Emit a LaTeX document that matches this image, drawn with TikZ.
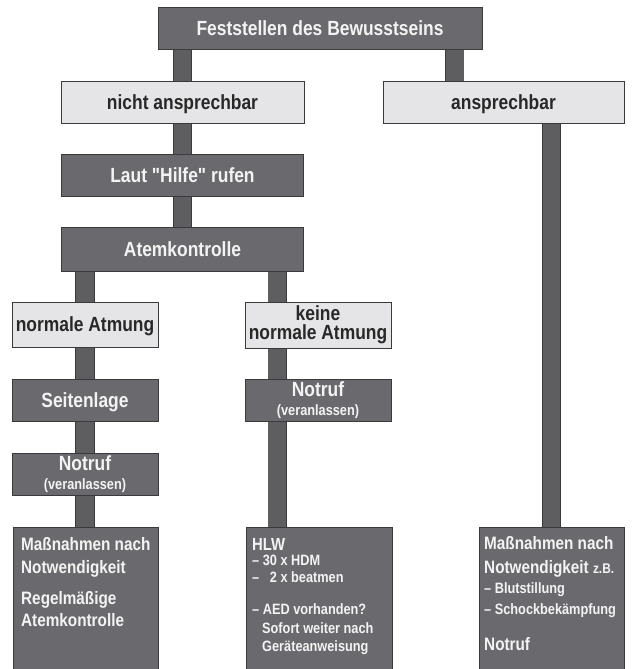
\documentclass[tikz,border=0pt]{standalone}
\usepackage{fontspec}
\setmainfont{Liberation Sans}[FakeStretch=0.85, Ligatures=TeXOff]
\usetikzlibrary{backgrounds,calc}
\definecolor{boxdark}{RGB}{106,106,110}
\definecolor{boxlight}{RGB}{229,229,231}
\definecolor{barfill}{RGB}{94,94,97}
\definecolor{edge}{RGB}{58,58,60}
\definecolor{txtlight}{RGB}{243,243,243}
\definecolor{txtdark}{RGB}{40,40,40}
\tikzset{
  boxbase/.style={draw=edge, line width=0.8pt, inner sep=0pt, align=center,
    font=\bfseries\fontsize{20.5}{19}\selectfont},
  oneline/.style={text height=14.7pt, text depth=0pt},
  darkbox/.style={boxbase, fill=boxdark, text=txtlight},
  lightbox/.style={boxbase, fill=boxlight, text=txtdark},
  bar/.style={draw=edge, line width=0.8pt, double=barfill, double distance=17.5pt},
  btext/.style={anchor=base west, inner sep=0pt, text=txtlight,
    font=\bfseries\fontsize{18}{20}\selectfont},
  stext/.style={btext, font=\bfseries\fontsize{15}{17}\selectfont},
}
\begin{document}
\begin{tikzpicture}[x=1pt,y=-1pt]
\useasboundingbox (0,0) rectangle (632,669);
\clip (0,0) rectangle (632,669);

\node[darkbox, oneline, minimum width=324pt, minimum height=42pt] (top) at (320,28) {Feststellen des Bewusstseins};
\node[lightbox, oneline, minimum width=243pt, minimum height=42pt] (na) at (182.5,102) {nicht ansprechbar};
\node[lightbox, oneline, minimum width=241pt, minimum height=42pt] (ans) at (503.5,102) {ansprechbar};
\node[darkbox, oneline, minimum width=242pt, minimum height=42pt] (laut) at (182.5,175) {Laut "Hilfe" rufen};
\node[darkbox, oneline, minimum width=242pt, minimum height=44pt] (atem) at (182.5,249) {Atemkontrolle};
\node[lightbox, oneline, minimum width=146pt, minimum height=45pt] (normale) at (85,324.5) {normale Atmung};
\node[lightbox, minimum width=146pt, minimum height=46pt] (keine) at (318,325) {keine\\normale Atmung};
\node[darkbox, oneline, minimum width=146pt, minimum height=42pt] (seiten) at (85,400) {Seitenlage};
\node[darkbox, minimum width=146pt, minimum height=42pt] (notrufb) at (318,400)
  {\fontsize{20.5}{13}\selectfont Notruf\\\fontsize{15}{13}\selectfont (veranlassen)};
\node[darkbox, minimum width=146pt, minimum height=42pt] (notrufa) at (85,474)
  {\fontsize{20.5}{13}\selectfont Notruf\\\fontsize{15}{13}\selectfont (veranlassen)};
\node[darkbox, minimum width=145pt, minimum height=160pt] (massa) at (85.5,607) {};
\node[darkbox, minimum width=146pt, minimum height=160pt] (hlw) at (319,607) {};
\node[darkbox, minimum width=145pt, minimum height=160pt] (massb) at (551.5,607) {};

\coordinate (tr) at ([xshift=-27.5pt]top.south east);
\coordinate (kt) at ([xshift=32.5pt]keine.north west);
\coordinate (kb) at ([xshift=32.5pt]keine.south west);
\coordinate (nb) at ([xshift=32.5pt]notrufb.south west);
\begin{scope}[on background layer]
\draw[bar] (na.north) -- (na.north |- top.south);
\draw[bar] (tr) -- (tr |- ans.north);
\draw[bar] (na.south) -- (na.south |- laut.north);
\draw[bar] (laut.south) -- (laut.south |- atem.north);
\draw[bar] (normale.north) -- (normale.north |- atem.south);
\draw[bar] (kt) -- (kt |- atem.south);
\draw[bar] (normale.south) -- (normale.south |- seiten.north);
\draw[bar] (seiten.south) -- (seiten.south |- notrufa.north);
\draw[bar] (notrufa.south) -- (notrufa.south |- massa.north);
\draw[bar] (kb) -- (kb |- notrufb.north);
\draw[bar] (nb) -- (nb |- hlw.north);
\draw[bar] (massb.north) -- (massb.north |- ans.south);
\end{scope}

% left bottom box
\node[btext] (ma1) at (21,550) {Maßnahmen nach};
\node[btext] (ma2) at (21,573) {Notwendigkeit};
\node[btext] (ma3) at (21,604) {Regelmäßige};
\node[btext] (ma4) at (21,626) {Atemkontrolle};
% middle bottom box
\node[btext, font=\bfseries\fontsize{17.5}{20}\selectfont] (h1) at (252,550) {HLW};
\node[stext] (h2) at (252,565) {– 30 x HDM};
\node[stext] (h3) at (252,582) {– \hphantom{3}2 x beatmen};
\node[stext] (h4) at (252,614) {– AED vorhanden?};
\node[stext] (h5) at (262,633) {Sofort weiter nach};
\node[stext] (h6) at (262,651) {Geräteanweisung};
% right bottom box
\node[btext] (mb1) at (484,549) {Maßnahmen nach};
\node[btext] (mb2) at (484,573) {Notwendigkeit {\fontsize{14}{16}\selectfont z.B.}};
\node[stext] (mb3) at (484,593) {– Blutstillung};
\node[stext] (mb4) at (484,614) {– Schockbekämpfung};
\node[btext] (mb5) at (484,650) {Notruf};
\end{tikzpicture}
\end{document}
